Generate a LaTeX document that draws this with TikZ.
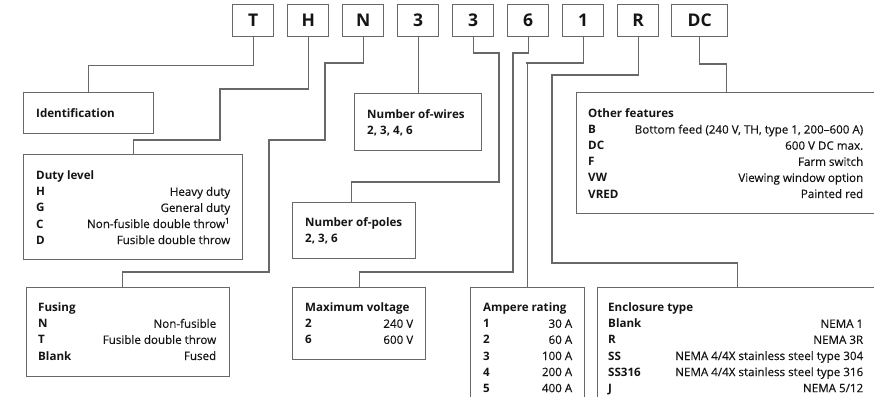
\documentclass[tikz,border=0pt]{standalone}
\usepackage{fontspec}
\setmainfont{Open Sans}[UprightFeatures={FakeBold=0.35}]
\definecolor{linec}{HTML}{686868}
\definecolor{txtc}{HTML}{141414}
\newcommand{\bodyfont}{\fontsize{11.6}{16.1}\selectfont}
\begin{document}
\begin{tikzpicture}[x=1pt,y=-1pt,
  codebox/.style={draw=linec, line width=1.4pt, minimum width=41, minimum height=32, inner sep=0, anchor=north west, text=txtc, font=\fontsize{17.5}{17.5}\selectfont\bfseries},
  infobox/.style={draw=linec, line width=1.4pt, inner sep=0, anchor=north west},
  infotext/.style={inner sep=0, anchor=base west, text=txtc, font=\bodyfont},
  conn/.style={draw=linec, line width=1.4pt}]
\useasboundingbox (0,0) rectangle (874,396);
\clip (0,0) rectangle (874,396);
% top code boxes
\node[codebox] (T)  at (232,4) {T};
\node[codebox] (H)  at (287,4) {H};
\node[codebox] (N)  at (342,4) {N};
\node[codebox] (w3) at (397,4) {3};
\node[codebox] (p3) at (452,4) {3};
\node[codebox] (s6) at (507,4) {6};
\node[codebox] (o1) at (562,4) {1};
\node[codebox] (R)  at (617,4) {R};
\node[codebox, minimum width=56] (DC) at (671,4) {DC};
% description boxes
\node[infobox, minimum width=130, minimum height=41] (ident) at (23,92) {};
\node[infobox, minimum width=219, minimum height=105] (duty) at (23,154) {};
\node[infobox, minimum width=127, minimum height=57] (wires) at (354,93) {};
\node[infobox, minimum width=123, minimum height=56] (poles) at (292,202) {};
\node[infobox, minimum width=300, minimum height=121] (other) at (576,92) {};
\node[infobox, minimum width=203, minimum height=89] (fuse) at (26,287) {};
\node[infobox, minimum width=133, minimum height=72] (volt) at (292,287) {};
\node[infobox, minimum width=114, minimum height=125] (amp) at (470,287) {};
\node[infobox, minimum width=280, minimum height=125] (encl) at (597,287) {};
% texts
\node[infotext] (identT) at (36,117) {\bfseries Identification};
\node[infotext] (dutyT) at (36,179.7) {\begin{tabular*}{194pt}[t]{@{}l@{\extracolsep{\fill}}r@{}}
\multicolumn{2}{@{}l@{}}{\bfseries Duty level}\\
\bfseries H & Heavy duty\\
\bfseries G & General duty\\
\bfseries C & Non-fusible double throw\textsuperscript{1}\\
\bfseries D & Fusible double throw
\end{tabular*}};
\node[infotext] (wiresT) at (367,118) {\begin{tabular}[t]{@{}l@{}}
\bfseries Number of-wires\\
\bfseries 2, 3, 4, 6
\end{tabular}};
\node[infotext] (polesT) at (305,226.5) {\begin{tabular}[t]{@{}l@{}}
\bfseries Number of-poles\\
\bfseries 2, 3, 6
\end{tabular}};
\node[infotext] (otherT) at (588,117.5) {\begin{tabular*}{275pt}[t]{@{}l@{\extracolsep{\fill}}r@{}}
\multicolumn{2}{@{}l@{}}{\bfseries Other features}\\
\bfseries B & Bottom feed (240 V, TH, type 1, 200–600 A)\\
\bfseries DC & 600 V DC max.\\
\bfseries F & Farm switch\\
\bfseries VW & Viewing window option\\
\bfseries VRED & Painted red
\end{tabular*}};
\node[infotext] (fuseT) at (38,311.7) {\begin{tabular*}{178pt}[t]{@{}l@{\extracolsep{\fill}}r@{}}
\multicolumn{2}{@{}l@{}}{\bfseries Fusing}\\
\bfseries N & Non-fusible\\
\bfseries T & Fusible double throw\\
\bfseries Blank & Fused
\end{tabular*}};
\node[infotext] (voltT) at (305,311.7) {\begin{tabular*}{108pt}[t]{@{}l@{\extracolsep{\fill}}r@{}}
\multicolumn{2}{@{}l@{}}{\bfseries Maximum voltage}\\
\bfseries 2 & 240 V\\
\bfseries 6 & 600 V
\end{tabular*}};
\node[infotext] (ampT) at (483,311.7) {\begin{tabular*}{89pt}[t]{@{}l@{\extracolsep{\fill}}r@{}}
\multicolumn{2}{@{}l@{}}{\bfseries Ampere rating}\\
\bfseries 1 & 30 A\\
\bfseries 2 & 60 A\\
\bfseries 3 & 100 A\\
\bfseries 4 & 200 A\\
\bfseries 5 & 400 A
\end{tabular*}};
\node[infotext] (enclT) at (608,311.7) {\begin{tabular*}{255pt}[t]{@{}l@{\extracolsep{\fill}}r@{}}
\multicolumn{2}{@{}l@{}}{\bfseries Enclosure type}\\
\bfseries Blank & NEMA 1\\
\bfseries R & NEMA 3R\\
\bfseries SS & NEMA 4/4X stainless steel type 304\\
\bfseries SS316 & NEMA 4/4X stainless steel type 316\\
\bfseries J & NEMA 5/12
\end{tabular*}};
% connectors
\draw[conn] (T.south) -- ++(0,28) -| (ident.north);
\draw[conn] (H.south) |- (220,89) -- (220,140) -| (duty.north);
\draw[conn] (N.south) |- (325,63) |- (269,140) -- (269,272) -| ([xshift=-5.5pt]fuse.north);
\draw[conn] (w3.south) -- (w3.south |- wires.north);
\draw[conn] (p3.south) |- (499,53) |- (351,182) -| ([xshift=-2.5pt]poles.north);
\draw[conn] (s6.south) |- (513,53) |- (359,272) -| (volt.north);
\draw[conn] (o1.south) |- (526,63) -| (amp.north);
\draw[conn] (R.south) |- (552,75) |- (737,263) -| (encl.north);
\draw[conn] (DC.south) |- (725,64) -| (other.north);
\end{tikzpicture}
\end{document}
